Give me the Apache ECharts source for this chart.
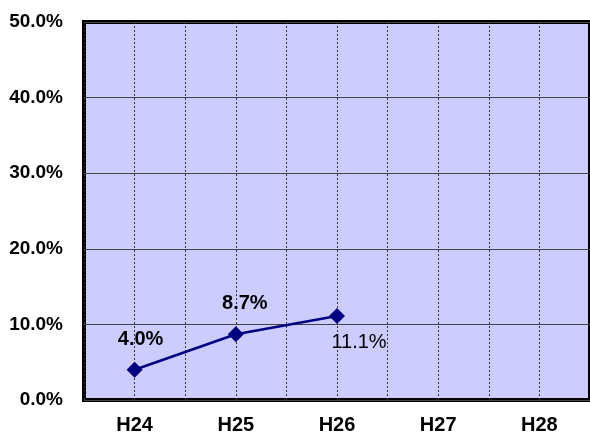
<!DOCTYPE html>
<html>
<head>
<meta charset="utf-8">
<script src="https://cdn.jsdelivr.net/npm/echarts@6/dist/echarts.min.js"></script>
<style>
html,body{margin:0;padding:0;background:#fff;}
#chart{width:590px;height:435px;}
</style>
</head>
<body>
<div id="chart"></div>
<script>
var categories = ['H24', 'H25', 'H26', 'H27', 'H28'];
var rates = [0.040, 0.087, 0.111, null, null];
var halfSteps = ['a','b','c','d','e','f','g','h','i','j'];
var yMin = 0, yMax = 0.5, yStep = 0.1;

function pct(v){ return (v * 100).toFixed(1) + '%'; }

var labelStyles = [
  {offset: [6, -30], fontWeight: 'bold', fontSize: 20},
  {offset: [9, -31], fontWeight: 'bold', fontSize: 20},
  {offset: [22, 26], fontWeight: 'normal', fontSize: 20}
];

var seriesData = rates.map(function(v, i){
  if (v === null) return null;
  var ls = labelStyles[i];
  return {
    value: v,
    label: {
      show: true,
      position: 'inside',
      offset: ls.offset,
      fontWeight: ls.fontWeight,
      fontSize: ls.fontSize,
      fontFamily: 'Liberation Sans',
      color: '#000',
      textBorderWidth: 0,
      formatter: function(p){ return pct(p.value); }
    }
  };
});

var chart = echarts.init(document.getElementById('chart'), null, {renderer: 'canvas'});
chart.setOption({
  animation: false,
  backgroundColor: '#ffffff',
  grid: {
    left: 84, top: 22, right: -6, bottom: 34.5,
    show: true,
    backgroundColor: '#CCCCFF',
    borderColor: '#000',
    borderWidth: 4
  },
  xAxis: [{
    type: 'category',
    data: categories,
    boundaryGap: true,
    axisLine: {show: false},
    axisTick: {show: false},
    splitLine: {show: false},
    axisLabel: {
      margin: 15,
      color: '#000',
      fontSize: 20,
      fontWeight: 'bold',
      fontFamily: 'Liberation Sans'
    }
  }, {
    type: 'category',
    data: halfSteps,
    position: 'bottom',
    boundaryGap: true,
    axisLine: {show: false},
    axisTick: {show: false},
    axisLabel: {show: false},
    splitLine: {show: true, interval: 0, lineStyle: {color: '#333', width: 1, type: [2, 2]}}
  }],
  yAxis: {
    type: 'value',
    min: yMin, max: yMax, interval: yStep,
    axisLine: {show: false},
    axisTick: {show: false},
    splitLine: {show: true, lineStyle: {color: '#444', width: 1}},
    axisLabel: {
      margin: 21,
      color: '#000',
      fontSize: 19,
      fontWeight: 'bold',
      fontFamily: 'Liberation Sans',
      padding: [4, 0, 0, 0],
      formatter: function(v){ return pct(v); }
    }
  },
  series: [{
    type: 'line',
    xAxisIndex: 0,
    data: seriesData,
    symbol: 'diamond',
    symbolSize: 16,
    lineStyle: {color: '#000080', width: 2.5},
    itemStyle: {color: '#000080'},
    connectNulls: false
  }]
});
</script>
</body>
</html>
